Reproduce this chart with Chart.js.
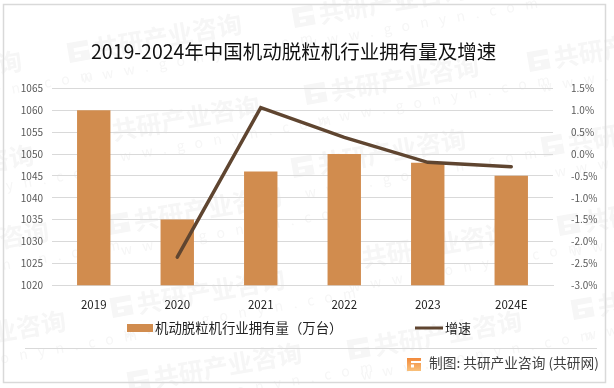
<!DOCTYPE html>
<html>
<head>
<meta charset="utf-8">
<script src="https://cdn.jsdelivr.net/npm/chart.js@4"></script>
<style>
  body { margin: 0; background: #fff; }
  #wrap { width: 614px; height: 388px; }
</style>
</head>
<body>
<div id="wrap"><canvas id="myChart" width="614" height="388"></canvas></div>
<script>
const categories = ['2019', '2020', '2021', '2022', '2023', '2024E'];
const owned = [1060, 1035, 1046, 1050, 1048, 1045];
const growth = [null, -2.36, 1.06, 0.38, -0.19, -0.29];
const ownedLabel = '机动脱粒机行业拥有量（万台）';
const growthLabel = '增速';
const titleText = '2019-2024年中国机动脱粒机行业拥有量及增速';
const footerText = '制图: 共研产业咨询 (共研网)';

const cjk = '"Noto Sans CJK SC", sans-serif';

// where the faint site stamps sit
const stamps = [[-150, 100], [70, 63], [295, 28], [530, 72], [-138, 194], [88, 145], [307, 105], [544, 157],
  [-123, 270], [110, 235], [294, 178], [338, 272], [560, 236], [-106, 360], [113, 318], [350, 360], [574, 320], [130, 392]];

const extras = {
  id: 'extras',
  afterLayout(chart) {
    // the title is not centred on the page in the original
    chart.titleBlock.left = 91;
  },
  beforeDraw(chart) {
    const c = chart.ctx;
    c.save();
    c.fillStyle = '#fff';
    c.fillRect(0, 0, 614, 388);
    stamps.forEach(function (s) {
      c.save();
      c.translate(s[0], s[1]);
      c.rotate(-10 * Math.PI / 180);
      c.fillStyle = '#f6f6f6';
      c.fillRect(0, -20, 21, 20);
      c.fillStyle = '#fff';
      c.fillRect(6, -14, 15, 4);
      c.fillRect(6, -7, 6, 3);
      c.fillStyle = '#f6f6f6';
      c.font = 'bold 25px ' + cjk;
      c.textBaseline = 'alphabetic';
      c.fillText('共研产业咨询', 26, 0);
      c.font = '14px ' + cjk;
      c.letterSpacing = '10.5px';
      c.fillText('www.gonyn.com', 8, 22);
      c.letterSpacing = '0px';
      c.restore();
    });
    c.restore();
  },
  afterDraw(chart) {
    const c = chart.ctx;
    c.save();
    // outer frame and footer rule
    c.strokeStyle = '#d9d9d9';
    c.lineWidth = 1.5;
    c.strokeRect(3.5, 4.5, 602, 378);
    c.lineWidth = 1;
    c.beginPath();
    c.moveTo(25, 348.5);
    c.lineTo(597, 348.5);
    c.stroke();

    // legend
    c.textBaseline = 'middle';
    c.font = '13.4px ' + cjk;
    c.fillStyle = '#d18c4e';
    c.fillRect(127, 324, 26, 8);
    c.fillStyle = '#222';
    c.fillText(ownedLabel, 155, 328);
    c.strokeStyle = '#5f4530';
    c.lineWidth = 3;
    c.beginPath();
    c.moveTo(415, 328);
    c.lineTo(443, 328);
    c.stroke();
    c.font = '13px ' + cjk;
    c.fillText(growthLabel, 445, 328);

    // footer logo and source
    const g = c.createLinearGradient(414, 358, 414, 371);
    g.addColorStop(0, '#f28a3c');
    g.addColorStop(1, '#f9c07a');
    c.fillStyle = g;
    c.fillRect(407, 358, 14, 13);
    c.fillStyle = '#fff';
    c.fillRect(411, 361, 10, 2);
    c.fillRect(411, 364.5, 3, 3);
    c.fillStyle = '#404040';
    c.font = '13.7px ' + cjk;
    c.fillText(footerText, 429, 363);
    c.restore();
  }
};

const ctx = document.getElementById('myChart');

new Chart(ctx, {
  type: 'bar',
  data: {
    labels: categories,
    datasets: [{
      type: 'line',
      label: growthLabel,
      data: growth,
      yAxisID: 'y2',
      borderColor: '#5f4530',
      borderWidth: 3.5,
      borderCapStyle: 'round',
      pointRadius: 0,
      tension: 0,
      order: 1
    }, {
      label: ownedLabel,
      data: owned,
      yAxisID: 'y',
      backgroundColor: '#d18c4e',
      barPercentage: 0.4,
      categoryPercentage: 1,
      order: 2
    }]
  },
  plugins: [extras],
  options: {
    responsive: false,
    animation: false,
    layout: {
      padding: { left: 0, right: 0, top: 0, bottom: 71 }
    },
    plugins: {
      legend: { display: false },
      tooltip: { enabled: false },
      title: {
        display: true,
        text: titleText,
        align: 'start',
        color: '#111',
        font: { family: cjk, size: 19.5, weight: 'normal' },
        padding: { top: 40, bottom: 25 }
      }
    },
    scales: {
      x: {
        grid: { display: false },
        border: { color: '#d9d9d9' },
        ticks: {
          color: '#222',
          padding: 5,
          font: { family: cjk, size: 11.5 }
        }
      },
      y: {
        position: 'left',
        min: 1020,
        max: 1065,
        afterFit(scale) { scale.width = 52; },
        grid: { color: '#d9d9d9', drawTicks: false },
        border: { display: false },
        ticks: {
          stepSize: 5,
          color: '#595959',
          padding: 9,
          font: { family: cjk, size: 10 },
          callback: function (v) { return String(v); }
        }
      },
      y2: {
        position: 'right',
        min: -3,
        max: 1.5,
        afterFit(scale) { scale.width = 61; },
        grid: { display: false },
        border: { display: false },
        ticks: {
          stepSize: 0.5,
          color: '#595959',
          padding: 10,
          font: { family: cjk, size: 10 },
          callback: function (v) { return v.toFixed(1) + '%'; }
        }
      }
    }
  }
});
</script>
</body>
</html>
